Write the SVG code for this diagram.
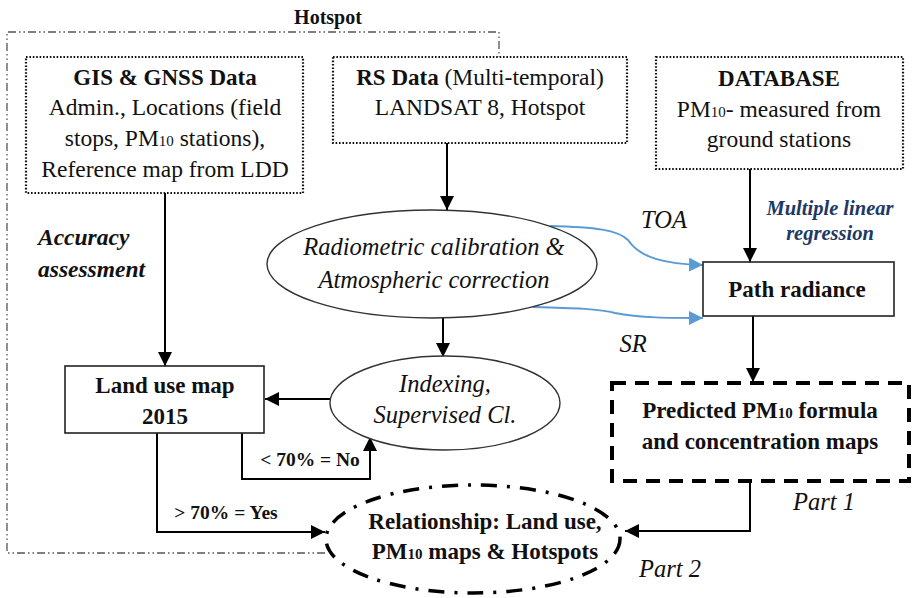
<svg xmlns="http://www.w3.org/2000/svg" width="914" height="598" viewBox="0 0 914 598">
<defs>
<style>
text{font-family:"Liberation Serif","DejaVu Serif",serif;font-size:23.5px;fill:#111;text-anchor:middle}
.b{font-weight:bold;font-size:23px}
.i{font-style:italic;font-size:24.5px}
.sub{font-size:15px}
.lab{font-weight:bold;font-size:19.5px}
.dot{fill:none;stroke:#111;stroke-width:2.2;stroke-dasharray:1.6 1.8}
.box{fill:#fff;stroke:#222;stroke-width:1.6}
.ell{fill:#fff;stroke:#333;stroke-width:1.4}
.con{fill:none;stroke:#000;stroke-width:2;marker-end:url(#ah)}
.blue{fill:none;stroke:#5b9bd5;stroke-width:2;marker-end:url(#bh)}
</style>
<marker id="ah" viewBox="0 0 14 14" refX="14" refY="7" markerWidth="14" markerHeight="14" markerUnits="userSpaceOnUse" orient="auto"><path d="M0,0 L14,7 L0,14 z" fill="#000"/></marker>
<marker id="bh" viewBox="0 0 14 14" refX="14" refY="7" markerWidth="14" markerHeight="14" markerUnits="userSpaceOnUse" orient="auto"><path d="M0,0 L14,7 L0,14 z" fill="#5b9bd5"/></marker>
</defs>
<rect width="914" height="598" fill="#fff"/>

<g id="hotspot">
<path d="M325 553 H7 V32 H499 V57" fill="none" stroke="#555" stroke-width="1.3" stroke-dasharray="8 3 1.5 3 1.5 3"/>
<text x="328" y="24" class="b" style="font-size:20px">Hotspot</text>
</g>

<g id="connectors">
<path class="con" d="M165 193 V366"/>
<path class="con" d="M447 143 V210"/>
<path class="con" d="M443 318 V357"/>
<path class="con" d="M330 399 H265"/>
<path class="con" d="M750 169 V262"/>
<path class="con" d="M753 316 V382"/>
<path class="con" d="M242 433 V479 H370 V437"/>
<path class="con" d="M157 433 V532 H325"/>
<path class="con" d="M750 482 V531 H625"/>
<path class="blue" d="M550 226 C595 227 618 230 628 240 C640 258 665 264 703 265"/>
<path class="blue" d="M533 307 C575 308 600 309 615 313 C640 318 670 318 703 318"/>
<text x="38" y="245" class="i b" style="text-anchor:start;font-size:23.5px">Accuracy</text>
<text x="38" y="277" class="i b" style="text-anchor:start;font-size:23.5px">assessment</text>
<text x="664" y="228" class="i">TOA</text>
<text x="633" y="352" class="i">SR</text>
<text x="830" y="215" class="i b" style="font-size:20.5px;fill:#203864">Multiple linear</text>
<text x="830" y="240" class="i b" style="font-size:20.5px;fill:#203864">regression</text>
<text x="310" y="466" class="lab">&lt; 70% = No</text>
<text x="226" y="519" class="lab">&gt; 70% = Yes</text>
<text x="824" y="510" class="i">Part 1</text>
<text x="670" y="577" class="i">Part 2</text>
</g>

<g id="gis">
<rect class="dot" x="26" y="57" width="277" height="136"/>
<text x="165" y="85" class="b">GIS &amp; GNSS Data</text>
<text x="165" y="115">Admin., Locations (field</text>
<text x="165" y="146">stops, PM<tspan class="sub">10</tspan> stations),</text>
<text x="165" y="177">Reference map from LDD</text>
</g>

<g id="rs">
<rect class="dot" x="333" y="57" width="294" height="86"/>
<text x="480" y="85"><tspan class="b">RS Data</tspan> (Multi-temporal)</text>
<text x="480" y="115">LANDSAT 8, Hotspot</text>
</g>

<g id="database">
<rect class="dot" x="656" y="57" width="247" height="112"/>
<text x="779" y="86" class="b">DATABASE</text>
<text x="779" y="117">PM<tspan class="sub">10</tspan>- measured from</text>
<text x="779" y="147">ground stations</text>
</g>

<g id="radiometric">
<ellipse class="ell" cx="432" cy="264" rx="165" ry="54"/>
<text x="434" y="255" class="i">Radiometric calibration &amp;</text>
<text x="434" y="288" class="i">Atmospheric correction</text>
</g>

<g id="path-radiance">
<rect class="box" x="703" y="262" width="191" height="54"/>
<text x="797" y="297" class="b">Path radiance</text>
</g>

<g id="indexing">
<ellipse class="ell" cx="445" cy="403" rx="115" ry="47"/>
<text x="445" y="392" class="i">Indexing,</text>
<text x="445" y="423" class="i">Supervised Cl.</text>
</g>

<g id="landuse">
<rect class="box" x="65" y="366" width="199" height="67"/>
<text x="165" y="393" class="b">Land use map</text>
<text x="165" y="424" class="b">2015</text>
</g>

<g id="predicted">
<rect x="612" y="383" width="297" height="98" fill="#fff" stroke="#000" stroke-width="4" stroke-dasharray="14 9"/>
<text x="760" y="418" class="b">Predicted PM<tspan class="sub">10</tspan> formula</text>
<text x="760" y="449" class="b">and concentration maps</text>
</g>

<g id="relationship">
<ellipse cx="473" cy="539" rx="147" ry="54" fill="none" stroke="#000" stroke-width="3.5" stroke-dasharray="16 10 3 10"/>
<text x="485" y="529" class="b">Relationship: Land use,</text>
<text x="485" y="559" class="b">PM<tspan class="sub">10</tspan> maps &amp; Hotspots</text>
</g>
</svg>
